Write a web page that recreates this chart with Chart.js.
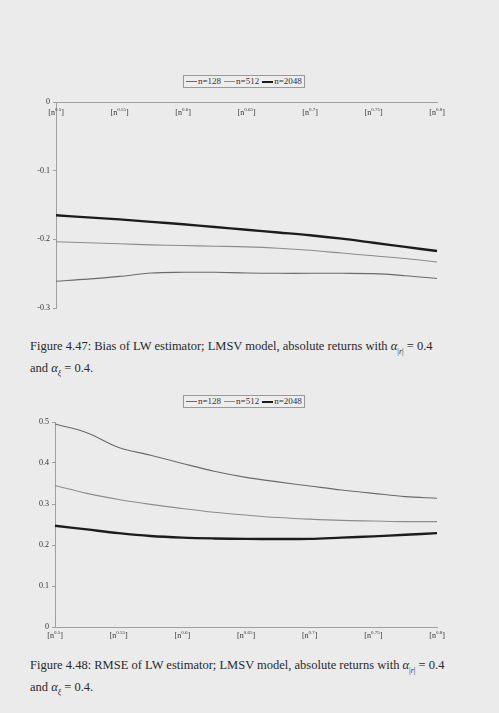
<!DOCTYPE html>
<html>
<head>
<meta charset="utf-8">
<script src="https://cdn.jsdelivr.net/npm/chart.js@4.4.0/dist/chart.umd.min.js"></script>
<style>
  body { margin: 0; background: #ebebeb; width: 499px; height: 713px; overflow: hidden; position: relative; font-family: "Liberation Serif", serif; }
  .box { position: absolute; left: 0; width: 499px; }
  .legend { position: absolute; border: 1px solid #999; background: #ededed; font-size: 9px; color: #333; padding: 0 2px; white-space: nowrap; line-height: 11px; }
  .legend .item { margin-right: 3px; }
  .legend .item:last-child { margin-right: 0; }
  .legend i { display: inline-block; width: 11px; vertical-align: middle; margin-right: 1px; }
  .caption { position: absolute; left: 30px; font-size: 12.5px; color: #2a2a2a; line-height: 16px; white-space: nowrap; }
  .caption sub { font-size: 8px; }
</style>
</head>
<body>

<div class="legend" id="legend1" style="left:183px; top:75px;"></div>
<div class="box" style="top:90px; height:230px;"><canvas id="bias"></canvas></div>
<div class="caption" style="top:338px;">Figure 4.47: Bias of LW estimator; LMSV model, absolute returns with <i>α</i><sub>|<i>r</i>|</sub> = 0.4<br>and <i>α</i><sub><i>ξ</i></sub> = 0.4.</div>

<div class="legend" id="legend2" style="left:183px; top:395px;"></div>
<div class="box" style="top:410px; height:240px;"><canvas id="rmse"></canvas></div>
<div class="caption" style="top:657px;">Figure 4.48: RMSE of LW estimator; LMSV model, absolute returns with <i>α</i><sub>|<i>r</i>|</sub> = 0.4<br>and <i>α</i><sub><i>ξ</i></sub> = 0.4.</div>

<script>
// bandwidth exponents m = [n^d], simulated on a 0.025 grid, labelled every 0.05
const exponents = ['0.5', '0.525', '0.55', '0.575', '0.6', '0.625', '0.65', '0.675', '0.7', '0.725', '0.75', '0.775', '0.8'];
const shownExponents = ['0.5', '0.55', '0.6', '0.65', '0.7', '0.75', '0.8'];
const seriesNames = ['n=128', 'n=512', 'n=2048'];

// Figure 4.47 - bias
const bias128  = [-0.261, -0.258, -0.254, -0.249, -0.248, -0.248, -0.249, -0.2495, -0.2495, -0.2495, -0.250, -0.253, -0.257];
const bias512  = [-0.2035, -0.205, -0.2065, -0.208, -0.209, -0.210, -0.211, -0.213, -0.216, -0.220, -0.224, -0.228, -0.233];
const bias2048 = [-0.165, -0.168, -0.171, -0.1745, -0.178, -0.182, -0.186, -0.190, -0.194, -0.199, -0.205, -0.211, -0.217];

// Figure 4.48 - RMSE
const rmse128  = [0.495, 0.474, 0.438, 0.419, 0.399, 0.380, 0.365, 0.354, 0.344, 0.334, 0.326, 0.318, 0.314];
const rmse512  = [0.345, 0.326, 0.311, 0.299, 0.289, 0.280, 0.273, 0.267, 0.263, 0.260, 0.2585, 0.257, 0.257];
const rmse2048 = [0.247, 0.238, 0.229, 0.222, 0.218, 0.216, 0.215, 0.2145, 0.215, 0.218, 0.221, 0.225, 0.229];

// line looks per series (same order as seriesNames)
const lineColors = ['#6a6a6a', '#8c8c8c', '#1c1c1c'];
const lineWidths = [1.1, 1.1, 2.4];

const axisColor = '#a0a0a0';
const tickFont = { family: '"Liberation Serif", serif', size: 8 };


// Legend in a thin box, as in the original spreadsheet charts
function buildLegend(el) {
  seriesNames.forEach((name, i) => {
    const item = document.createElement('span');
    item.className = 'item';
    const sample = document.createElement('i');
    sample.style.borderTop = lineWidths[i] + 'px solid ' + lineColors[i];
    item.appendChild(sample);
    item.appendChild(document.createTextNode(name));
    el.appendChild(item);
  });
}

/**
 * Draws the x tick labels as [n^d] with a raised exponent
 */
const exponentLabels = {
  id: 'exponentLabels',
  afterDraw(chart, args, opts) {
    const ctx = chart.ctx;
    const xScale = chart.scales.x;
    const area = chart.chartArea;
    const y = opts.atTop ? area.top + 11 : area.bottom + 9;

    ctx.save();
    ctx.fillStyle = '#333';
    ctx.textBaseline = 'middle';
    ctx.textAlign = 'left';

    chart.data.labels.forEach((lab, i) => {
      if (!shownExponents.includes(lab)) return;
      const px = xScale.getPixelForValue(i);

      ctx.font = '8px "Liberation Serif", serif';
      const wOpen = ctx.measureText('[n').width;
      const wClose = ctx.measureText(']').width;
      ctx.font = '5px "Liberation Serif", serif';
      const wSup = ctx.measureText(lab).width;

      let left = px - (wOpen + wSup + wClose) / 2;
      ctx.font = '8px "Liberation Serif", serif';
      ctx.fillText('[n', left, y);
      ctx.font = '5px "Liberation Serif", serif';
      ctx.fillText(lab, left + wOpen, y - 3.5);
      ctx.font = '8px "Liberation Serif", serif';
      ctx.fillText(']', left + wOpen + wSup, y);
    });
    ctx.restore();
  }
};

function makeChart(canvasId, values, yMin, yMax, xAtTop, padding) {
  return new Chart(document.getElementById(canvasId), {
    type: 'line',
    data: {
      labels: exponents,
      datasets: seriesNames.map((name, i) => ({
        label: name,
        data: values[i],
        borderColor: lineColors[i],
        borderWidth: lineWidths[i],
        pointRadius: 0,
        tension: 0.35,
        fill: false,
      })),
    },
    options: {
      responsive: true,
      maintainAspectRatio: false,
      animation: false,
      layout: { padding: padding },
      plugins: {
        legend: { display: false },
        tooltip: { enabled: false },
        exponentLabels: { atTop: xAtTop },
      },
      scales: {
        x: {
          type: 'category',
          position: xAtTop ? 'top' : 'bottom',
          offset: false,
          grid: { display: false, drawTicks: false },
          border: { display: true, color: axisColor, width: 1 },
          ticks: { display: false },
        },
        y: {
          min: yMin,
          max: yMax,
          afterFit: (scale) => { scale.width = 20; },
          grid: { display: true, drawOnChartArea: false, drawTicks: true, tickLength: 3, color: axisColor },
          border: { display: true, color: axisColor, width: 1 },
          ticks: { stepSize: 0.1, padding: 3, color: '#333', font: tickFont },
        },
      },
    },
    plugins: [exponentLabels],
  });
}

buildLegend(document.getElementById('legend1'));
buildLegend(document.getElementById('legend2'));

makeChart('bias', [bias128, bias512, bias2048], -0.3, 0, true,
  { left: 36, right: 62, top: 12, bottom: 12 });

makeChart('rmse', [rmse128, rmse512, rmse2048], 0, 0.5, false,
  { left: 35, right: 62, top: 12, bottom: 23 });
</script>
</body>
</html>
